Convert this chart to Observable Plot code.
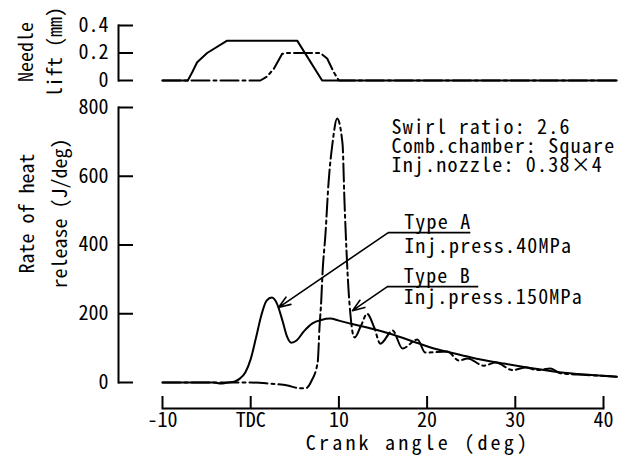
<!DOCTYPE html>
<html><head><meta charset="utf-8">
<script src="https://cdn.jsdelivr.net/npm/d3@7"></script>
<script src="https://cdn.jsdelivr.net/npm/@observablehq/plot@0.6"></script>
<style>
html,body{margin:0;padding:0;background:#fff;}
#chart{width:637px;height:468px;overflow:hidden;background:#fff;}
#chart svg{display:block;}
</style></head><body><div id="chart"></div>
<script>
const FONT = '"Noto Sans Mono CJK JP", "Noto Sans CJK JP", "DejaVu Sans Mono", monospace';

// ---- axes ----
const xDomain = [-10, 40];
const xTicks = [-10, 0, 10, 20, 30, 40];
const xTickLabels = ["-10", "TDC", "10", "20", "30", "40"];
const liftTicks = [0, 0.2, 0.4];
const liftTickLabels = ["0", "0.2", "0.4"];
const heatTicks = [0, 200, 400, 600, 800];
const heatTickLabels = ["0", "200", "400", "600", "800"];

// ---- needle lift (mm) ----
const liftAngleA = [-10, -7.13, -6.63, -6.07, -4.94, -2.67, 5.27, 8.1, 41.5];
const liftA      = [0, 0, 0.06, 0.133, 0.2, 0.29, 0.29, 0, 0];
const liftAngleB = [-10, 1.1, 1.87, 2.62, 3.57, 4.13, 7.9, 8.67, 9.42, 10, 41.5];
const liftB      = [0, 0, 0.03, 0.085, 0.194, 0.2, 0.2, 0.16, 0.06, 0, 0];

// ---- rate of heat release (J/deg) ----
const heatAngleA = [-10, -4.2, -3.4, -2.6, -1.8, -1.2, -0.6, 0, 0.6, 1.2, 1.8, 2.4, 3.0, 3.6, 4.1, 4.6, 5.2, 6.0, 7.0, 8.0, 9.0, 10.0, 11.5, 13.2, 15.8, 18.9, 20.4, 23, 25, 28.7, 31.7, 35, 38, 41.5];
const heatA      = [0, 0, -3, 0, 3, 12, 30, 68, 130, 195, 238, 247, 228, 180, 135, 116, 122, 148, 172, 182, 186, 180, 170, 160, 142, 115, 102, 85, 73, 55, 42, 30, 23, 17];
const heatAngleB = [-10, -2, 0, 2, 4.2, 5.6, 6.3, 6.9, 7.6, 7.8, 8.0, 8.14, 8.48, 8.82, 9.27, 9.8, 10.41, 10.63, 10.86, 11.09, 11.3, 11.6, 11.8, 12.5, 13.2, 14.0, 14.7, 16.1, 17.2, 18.9, 19.8, 22.3, 23.6, 24.6, 26.4, 27.8, 29.7, 31.2, 32.5, 34, 35.1, 38, 41.5];
const heatB      = [0, 0, 0, -3, -9, -17, -16, 5, 60, 160, 239, 317, 433, 579, 695, 768, 695, 529, 384, 270, 200, 140, 131, 165, 200, 160, 113, 151, 99, 125, 87, 90, 64, 70, 49, 58, 36, 44, 36, 41, 27, 22, 17];

// ---- annotations ----
const typeNames = ["Type A", "Type B"];
const typePressures = ["Inj.press.40MPa", "Inj.press.150MPa"];
const typeLabelAngle = [17.4, 17.35];
const typeLabelValue = [435, 278.5];
const typeLineHeight = [1.2, 1.08];
const leaderFromAngle = [15.6, 15.5];
const leaderFromValue = [436, 279];
const leaderToAngle = [3.15, 11.54];
const leaderToValue = [218, 209];
const underlineEndAngle = [24.9, 25.8];
const condLabels = ["Swirl ratio: 2.6", "Comb.chamber: Square", "Inj.nozzle: 0.38×4"];
const condAngle = 15.96;
const condValue = 686;

const liftLabel = "Needle\nlift (mm)";
const heatLabel = "Rate of heat\nrelease (J/deg)";
const xLabel = "Crank angle (deg)";

// ---- tables ----
const toRows = (xs, ys) => xs.map((x, i) => ({x, y: ys[i]}));
const liftRowsA = toRows(liftAngleA, liftA);
const liftRowsB = toRows(liftAngleB, liftB);
const heatRowsA = toRows(heatAngleA, heatA);
const heatRowsB = toRows(heatAngleB, heatB);
const leaders = leaderFromAngle.map((a, i) => ({x1: a, y1: leaderFromValue[i], x2: leaderToAngle[i], y2: leaderToValue[i], xu: underlineEndAngle[i]}));
const typeRows = typeNames.map((t, i) => ({t: t + "\n" + typePressures[i], x: typeLabelAngle[i], y: typeLabelValue[i]}));
const condRows = [{t: condLabels.join("\n"), x: condAngle, y: condValue}];

const DASHDOT = "18,4,3,4";
const style = {fontFamily: FONT, fontSize: "20px", background: "white", color: "black", overflow: "visible"};

const topPlot = Plot.plot({
  width: 637, height: 100,
  marginLeft: 118, marginRight: 34, marginTop: 25, marginBottom: 20,
  x: {domain: xDomain, range: [162, 603], axis: null},
  y: {domain: [0, 0.4], range: [80, 25]},
  style,
  marks: [
    Plot.frame({anchor: "left", strokeWidth: 2}),
    Plot.axisY(liftTicks, {anchor: "left", tickSize: -15, tickPadding: 25, strokeWidth: 2, label: null, fontSize: 20,
      tickFormat: d => liftTickLabels[liftTicks.indexOf(d)]}),
    Plot.line(liftRowsA, {x: "x", y: "y", strokeWidth: 2}),
    Plot.line(liftRowsB, {x: "x", y: "y", strokeWidth: 2, strokeDasharray: DASHDOT}),
    Plot.text([liftLabel], {frameAnchor: "left", rotate: -90, dx: -80, dy: -1, lineHeight: 1.45, fontSize: 20, textAnchor: "middle", lineAnchor: "middle"})
  ]
});

const bottomPlot = Plot.plot({
  width: 637, height: 368,
  marginLeft: 118, marginRight: 34, marginTop: 7, marginBottom: 60,
  x: {domain: xDomain, range: [162, 603]},
  y: {domain: [0, 800], range: [282, 7]},
  style,
  marks: [
    Plot.frame({anchor: "left", insetBottom: 26, strokeWidth: 2}),
    Plot.frame({anchor: "bottom", insetLeft: 44, strokeWidth: 2}),
    Plot.axisY(heatTicks, {anchor: "left", tickSize: -15, tickPadding: 25, strokeWidth: 2, label: null, fontSize: 20,
      tickFormat: d => heatTickLabels[heatTicks.indexOf(d)]}),
    Plot.axisX(xTicks, {anchor: "bottom", tickSize: -12, tickPadding: 16, strokeWidth: 2, label: null, fontSize: 20,
      tickFormat: d => xTickLabels[xTicks.indexOf(d)]}),
    Plot.line(heatRowsA, {x: "x", y: "y", strokeWidth: 2, curve: "monotone-x"}),
    Plot.line(heatRowsB, {x: "x", y: "y", strokeWidth: 2, curve: "monotone-x", strokeDasharray: DASHDOT}),
    Plot.arrow(leaders, {x1: "x1", y1: "y1", x2: "x2", y2: "y2", bend: 0, headLength: 12, headAngle: 40, strokeWidth: 1.6}),
    Plot.link(leaders, {x1: "x1", y1: "y1", x2: "xu", y2: "y1", strokeWidth: 1.6}),
    Plot.text([typeRows[0]], {x: "x", y: "y", text: "t", textAnchor: "start", lineAnchor: "middle", fontSize: 20, lineHeight: typeLineHeight[0]}),
    Plot.text([typeRows[1]], {x: "x", y: "y", text: "t", textAnchor: "start", lineAnchor: "middle", fontSize: 20, lineHeight: typeLineHeight[1]}),
    Plot.text(condRows, {x: "x", y: "y", text: "t", textAnchor: "start", lineAnchor: "middle", fontSize: 20, lineHeight: 0.95}),
    Plot.text([heatLabel], {frameAnchor: "left", rotate: -90, dx: -78.5, dy: -44.5, lineHeight: 1.65, fontSize: 20, textAnchor: "middle", lineAnchor: "middle"}),
    Plot.text([xLabel], {frameAnchor: "bottom", dx: 57, dy: 35, fontSize: 20, textAnchor: "middle", lineAnchor: "middle"})
  ]
});

// letter spacing to match the reference's wider half-width glyph pitch
d3.select(bottomPlot).selectAll("text").each(function () {
  const c = this.textContent;
  if (c === xLabel) this.setAttribute("letter-spacing", "3.2px");
  else if (c.startsWith("Type") || c.startsWith("Swirl")) this.setAttribute("letter-spacing", "1.2px");
});

const chart = document.getElementById("chart");
chart.appendChild(topPlot);
chart.appendChild(bottomPlot);
</script>
</body></html>
